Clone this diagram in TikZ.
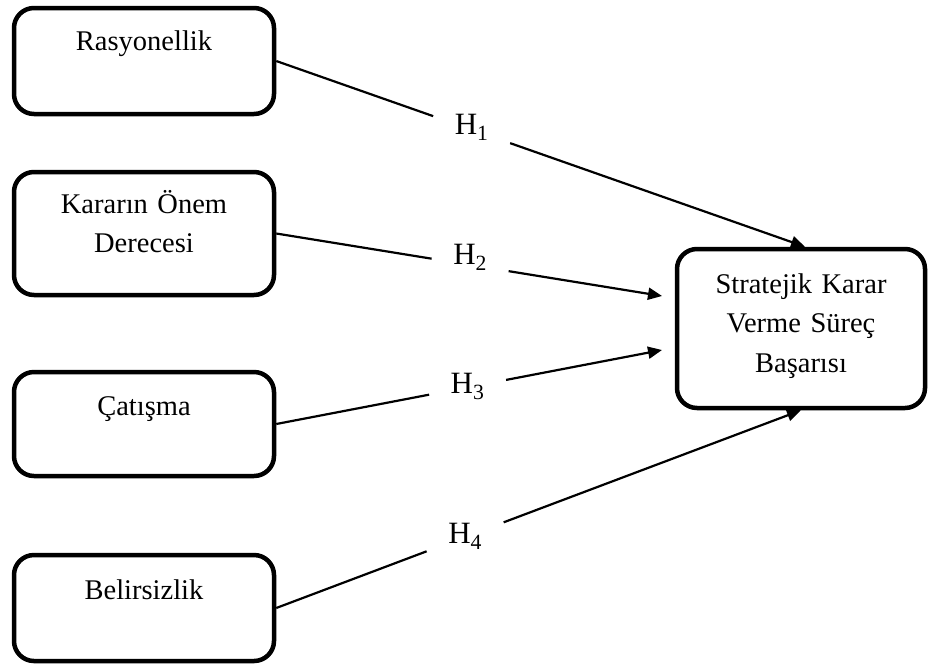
\documentclass[tikz,border=0pt]{standalone}
\usepackage{fontspec}
\setmainfont{Liberation Serif}
\usetikzlibrary{arrows.meta,calc}

\tikzset{
  box/.style={draw, line width=4.5pt, rounded corners=20pt, inner sep=0pt, outer sep=2.25pt},
  boxtext/.style={text width=250pt, align=center, anchor=base, inner sep=0pt,
                  font=\fontsize{28.5}{39.5}\selectfont},
  hyp/.style={inner sep=0pt, outer sep=0pt, minimum width=77pt, minimum height=40pt,
              text height=20pt, text depth=#1, font=\fontsize{31}{36}\selectfont},
  link/.style={line width=2.2pt},
  arrowlink/.style={link, -{Triangle[length=14pt,width=12pt]}},
}

\begin{document}
\begin{tikzpicture}[x=1pt,y=-1pt]
\useasboundingbox (0,0) rectangle (928,665);

% outcome
\node[box, minimum width=248pt, minimum height=159pt] (s) at (801,328.5) {};
\node[boxtext] (ts) at (801,293) {Stratejik Karar\\Verme Süreç\\Başarısı};

% predictors
\node[box, minimum width=260pt, minimum height=106pt] (b1) at (144,61) {};
\node[boxtext] (t1) at (144,50) {Rasyonellik};

\node[box, minimum width=260pt, minimum height=123pt] (b2) at (144,233.5) {};
\node[boxtext] (t2) at (144,213) {Kararın Önem\\Derecesi};

\node[box, minimum width=260pt, minimum height=104pt] (b3) at (144,424) {};
\node[boxtext] (t3) at (144,415) {Çatışma};

\node[box, minimum width=260pt, minimum height=106pt] (b4) at (144,608) {};
\node[boxtext] (t4) at (144,599) {Belirsizlik};

% arrow ends on the outcome box
\coordinate (e1) at ([xshift=4pt]s.north);
\coordinate (e2) at (662,296);
\coordinate (e3) at (662,350);
\coordinate (e4) at (s.south);

% hypothesis labels, each sitting in a gap of its connector
\node[hyp=10pt] (h1) at ($(b1.east)!0.3696!(e1)$) {H\textsubscript{1}};
\node[hyp=20pt] (h2) at ($(b2.east)!0.5026!(e2)$) {H\textsubscript{2}};
\node[hyp=8pt]  (h3) at ($(b3.east)!0.496!(e3)$)  {H\textsubscript{3}};
\node[hyp=6pt]  (h4) at ($(b4.east)!0.36!(e4)$)   {H\textsubscript{4}};

% connectors
\draw[arrowlink] (b1.east) -- (h1) -- (e1);
\draw[arrowlink] (b2.east) -- (h2) -- (e2);
\draw[arrowlink] (b3.east) -- (h3) -- (e3);
\draw[arrowlink] (b4.east) -- (h4) -- (e4);
\end{tikzpicture}
\end{document}
